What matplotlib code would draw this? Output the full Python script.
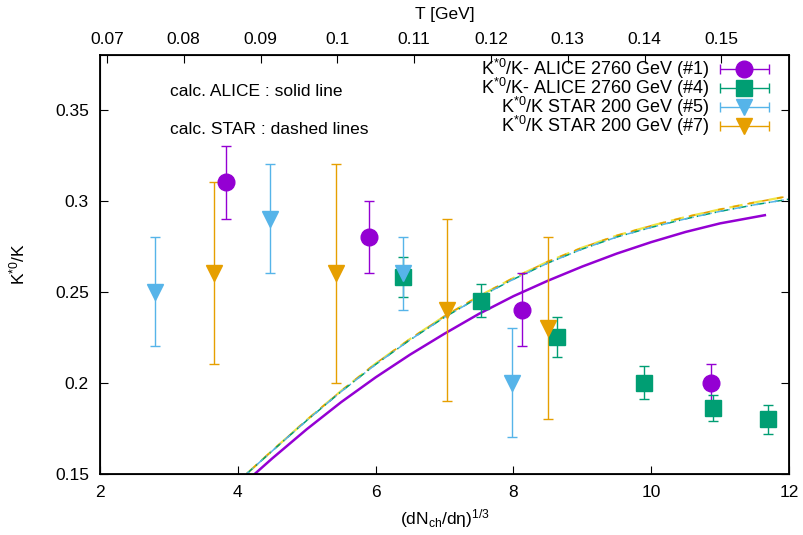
import numpy as np
import matplotlib
matplotlib.use("Agg")
import matplotlib.pyplot as plt
from matplotlib.container import ErrorbarContainer
from matplotlib.legend_handler import HandlerErrorbar

plt.rcParams['font.family'] = ['Liberation Sans', 'DejaVu Sans']
plt.rcParams['mathtext.fontset'] = 'custom'
plt.rcParams['mathtext.rm'] = 'Liberation Sans'
plt.rcParams['mathtext.it'] = 'Liberation Sans'
plt.rcParams['mathtext.default'] = 'regular'

# data points
alice1_x = [3.83, 5.91, 8.13, 10.87]
alice1_y = [0.31, 0.28, 0.24, 0.20]
alice1_err = [0.02, 0.02, 0.02, 0.01]

alice4_x = [6.40, 7.53, 8.63, 9.89, 10.90, 11.70]
alice4_y = [0.258, 0.245, 0.225, 0.200, 0.186, 0.180]
alice4_err = [0.011, 0.009, 0.011, 0.009, 0.007, 0.008]

star5_x = [2.80, 4.47, 6.40, 7.98]
star5_y = [0.25, 0.29, 0.26, 0.20]
star5_err = [0.03, 0.03, 0.02, 0.03]

star7_x = [3.66, 5.43, 7.04, 8.50]
star7_y = [0.26, 0.26, 0.24, 0.23]
star7_err = [0.05, 0.06, 0.05, 0.05]

# model curves
alice_calc_x = [4.25, 4.5, 5.0, 5.5, 6.0, 6.5, 7.0, 7.5, 8.0, 8.5, 9.0, 9.5,
                10.0, 10.5, 11.0, 11.65]
alice_calc_y = [0.150, 0.1584, 0.1744, 0.1893, 0.2029, 0.2154, 0.2269, 0.2378,
                0.2475, 0.2560, 0.2638, 0.2709, 0.2772, 0.2828, 0.2875, 0.2920]

star_calc_x = [4.13, 4.5, 5.0, 5.5, 6.0, 6.5, 7.0, 7.5, 8.0, 8.5, 9.0, 9.5,
               10.0, 10.5, 11.0, 11.5, 12.0]
star_calc_y_a = [0.150, 0.1627, 0.1795, 0.1955, 0.2105, 0.2240, 0.2365, 0.2475,
                 0.2575, 0.2665, 0.2742, 0.2808, 0.2862, 0.2910, 0.2952, 0.2990, 0.3025]
star_calc_y_b = [0.150, 0.1625, 0.1792, 0.1951, 0.2100, 0.2235, 0.2359, 0.2469,
                 0.2568, 0.2657, 0.2734, 0.2800, 0.2853, 0.2900, 0.2941, 0.2977, 0.3008]

# top axis (temperature)
t_ticks = [0.07, 0.08, 0.09, 0.10, 0.11, 0.12, 0.13, 0.14, 0.15]
t_labels = ['0.07', '0.08', '0.09', '0.1', '0.11', '0.12', '0.13', '0.14', '0.15']
t_range = (0.0691, 0.1588)

purple = '#9400d3'
green = '#009e73'
blue = '#56b4e9'
orange = '#e69f00'
yellow = '#f0e442'

fig = plt.figure(figsize=(8.04, 5.35), dpi=100)
ax = fig.add_axes([0.1244, 0.1146, 0.8569, 0.7826])

ax.plot(alice_calc_x, alice_calc_y, color=purple, lw=1.8)
ax.plot(star_calc_x, star_calc_y_a, color=yellow, lw=1.6, ls=(0, (6, 3)))
ax.plot(star_calc_x, star_calc_y_a, color=orange, lw=1.2, ls=(4, (4, 5)))
ax.plot(star_calc_x, star_calc_y_b, color=green, lw=1.1, ls=(0, (5, 3, 1, 3)))
ax.plot(star_calc_x, star_calc_y_b, color=blue, lw=1.1, ls=(3, (5, 3, 1, 3)))

ebkw = dict(elinewidth=1.0, capsize=3.5, capthick=1.0, ls='none')
ax.errorbar(alice1_x, alice1_y, yerr=alice1_err, fmt='o', color=purple, ms=12, **ebkw)
ax.errorbar(alice4_x, alice4_y, yerr=alice4_err, fmt='s', color=green, ms=11, **ebkw)
ax.errorbar(star5_x, star5_y, yerr=star5_err, fmt='v', color=blue, ms=11, **ebkw)
ax.errorbar(star7_x, star7_y, yerr=star7_err, fmt='v', color=orange, ms=11, **ebkw)

# legend proxies drawn with horizontal bars like gnuplot
h1 = ax.errorbar([np.nan], [np.nan], xerr=[1], fmt='o', color=purple, ms=12, **ebkw)
h2 = ax.errorbar([np.nan], [np.nan], xerr=[1], fmt='s', color=green, ms=11, **ebkw)
h3 = ax.errorbar([np.nan], [np.nan], xerr=[1], fmt='v', color=blue, ms=11, **ebkw)
h4 = ax.errorbar([np.nan], [np.nan], xerr=[1], fmt='v', color=orange, ms=11, **ebkw)
labels = [r'K$^{*0}$/K- ALICE 2760 GeV (#1)',
          r'K$^{*0}$/K- ALICE 2760 GeV (#4)',
          r'K$^{*0}$/K STAR 200 GeV (#5)',
          r'K$^{*0}$/K STAR 200 GeV (#7)']
ax.legend([h1, h2, h3, h4], labels, loc='upper right', bbox_to_anchor=(0.997, 1.03),
          frameon=False, markerfirst=False, numpoints=1, fontsize=13,
          handlelength=3.1, handletextpad=0.4, labelspacing=-0.28, borderpad=0.3,
          handler_map={ErrorbarContainer: HandlerErrorbar(xerr_size=1.35)})

ax.text(3.02, 0.3597, 'calc. ALICE : solid line', fontsize=12.5, va='center')
ax.text(3.02, 0.3388, 'calc. STAR : dashed lines', fontsize=12.5, va='center')

ax.set_xlim(2, 12)
ax.set_ylim(0.15, 0.38)
ax.set_xticks([2, 4, 6, 8, 10, 12])
ax.set_yticks([0.15, 0.2, 0.25, 0.3, 0.35])
ax.set_yticklabels(['0.15', '0.2', '0.25', '0.3', '0.35'])
ax.tick_params(axis='x', direction='in', length=6, width=0.8, labelsize=12.5, pad=8,
               top=False)
ax.tick_params(axis='y', direction='in', length=6, width=0.8, labelsize=12.5, pad=8,
               right=True)
ax.set_xlabel(r'(dN$_{ch}$/d$\eta$)$^{1/3}$', fontsize=12.5, labelpad=5)
ax.set_ylabel(r'K$^{*0}$/K', fontsize=12.5, labelpad=20)
for s in ax.spines.values():
    s.set_linewidth(1.3)

ax2 = ax.twiny()
ax2.set_xlim(*t_range)
ax2.set_xticks(t_ticks)
ax2.set_xticklabels(t_labels)
ax2.tick_params(axis='x', direction='in', length=6, width=0.8, labelsize=12.5, pad=6)
ax2.set_xlabel('T [GeV]', fontsize=12.5, labelpad=9)

fig.savefig('out.png', dpi=100)
